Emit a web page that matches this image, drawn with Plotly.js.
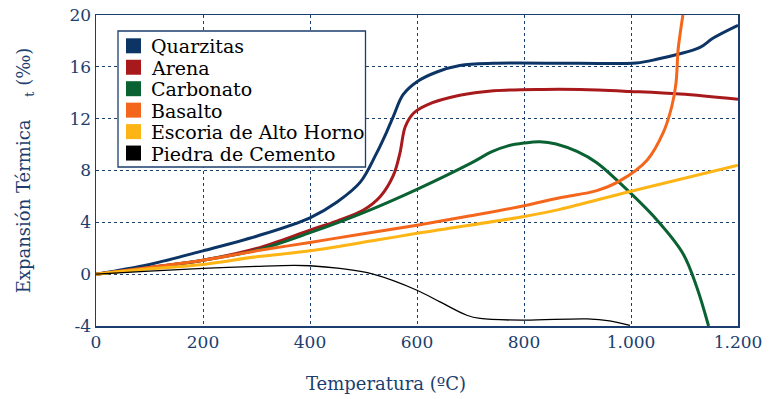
<!DOCTYPE html>
<html><head><meta charset="utf-8">
<script src="https://cdn.plot.ly/plotly-3.0.1.min.js"></script>
<style>html,body{margin:0;padding:0;background:#fff}</style>
</head><body><div id="chart" style="width:769px;height:399px"></div>
<script>
var names = ['Quarzitas','Arena','Carbonato','Basalto','Escoria de Alto Horno','Piedra de Cemento'];
var colors = ['#0c3566','#a8191c','#0a6233','#f4661c','#fdb515','#000000'];
var xTitle = 'Temperatura (ºC)';
var yTitle = 'Expansión Térmica \u00a0\u00a0\u00a0<sub>t</sub> (‰)';

var quarzX = [0,100,200,300,400,450,494,524,543,556,574,600,637,680,743,900,1010,1050,1086,1129,1153,1200];
var quarzY = [0,0.75,1.8,2.93,4.35,5.55,7.1,9.3,10.95,12.2,13.85,14.85,15.6,16.1,16.27,16.27,16.3,16.6,16.95,17.5,18.2,19.2];

var arenaX = [0,100,200,300,400,450,500,531,556,568,578,593,618,680,743,837,905,998,1092,1200];
var arenaY = [0,0.52,1.08,1.98,3.4,4.1,4.95,5.97,7.64,9.32,11.37,12.4,13.05,13.8,14.15,14.26,14.25,14.1,13.9,13.5];

var carbX = [0,100,200,300,400,500,600,700,740,770,800,830,860,900,936,980,1048,1097,1123,1145];
var carbY = [0,0.5,1.08,1.85,3.2,4.75,6.55,8.55,9.45,9.9,10.12,10.22,10.05,9.45,8.6,7.0,4.2,1.6,-1.0,-4.0];

var basX = [0,100,200,300,400,500,600,700,800,867,936,979,1030,1060,1076,1084,1088,1092,1097];
var basY = [0,0.52,1.08,1.8,2.45,3.12,3.78,4.5,5.28,5.9,6.45,7.2,8.8,10.9,12.9,14.7,17.3,18.6,20.0];

var escX = [0,100,200,300,400,525,600,800,867,1000,1200];
var escY = [0,0.41,0.75,1.34,1.8,2.63,3.15,4.45,5.0,6.4,8.4];

var piedX = [0,100,200,300,370,400,456,518,600,643,693,718,798,918,960,998];
var piedY = [0,0.23,0.44,0.6,0.68,0.65,0.44,0,-1.24,-2.14,-3.17,-3.42,-3.55,-3.45,-3.6,-3.95];

var xTickVals = [0,200,400,600,800,1000,1200];
var xTickText = ['0','200','400','600','800','1.000','1.200'];
var yTickVals = [-4,0,4,8,12,16,20];
var yTickText = ['-4','0','4','8','12','16','20'];

var xs = [quarzX, arenaX, carbX, basX, escX, piedX];
var ys = [quarzY, arenaY, carbY, basY, escY, piedY];
var widths = [3, 3, 3, 3, 3, 1.3];

var traces = [];
for (var i = 0; i < names.length; i++) {
  traces.push({x: xs[i], y: ys[i], name: names[i], mode: 'lines',
    line: {color: colors[i], width: widths[i], shape: 'spline', smoothing: 1},
    showlegend: false, hoverinfo: 'skip'});
}

var axisCol = '#1a3e6e';
var fontFam = '"DejaVu Serif", "Liberation Serif", serif';

// plot area 96..738 x 15..326 (pixels) -> paper coordinates
var L = 96, R = 738, T = 15, B = 326;
function px(x) { return (x - L) / (R - L); }
function py(y) { return (B - y) / (B - T); }
var shapes = [{type: 'rect', xref: 'paper', yref: 'paper', x0: px(118), x1: px(365.5), y0: py(167), y1: py(31),
  line: {color: axisCol, width: 1.3}, fillcolor: '#fff', layer: 'above'}];
var annotations = [];
for (var i = 0; i < names.length; i++) {
  var cy = 45.8 + i * 21.45;
  shapes.push({type: 'rect', xref: 'paper', yref: 'paper', x0: px(126), x1: px(141), y0: py(cy + 7.5), y1: py(cy - 7.5),
    line: {width: 0}, fillcolor: colors[i], layer: 'above'});
  annotations.push({xref: 'paper', yref: 'paper', x: px(149), y: py(cy + 0.5), xanchor: 'left', yanchor: 'middle',
    text: names[i], showarrow: false, font: {family: fontFam, size: 19, color: '#000'}});
}
annotations.push({xref: 'paper', yref: 'paper', x: px(386), y: py(383), xanchor: 'center', yanchor: 'middle',
  text: xTitle, showarrow: false, font: {family: fontFam, size: 18, color: axisCol}});

var layout = {
  width: 769, height: 399,
  margin: {l: 96, r: 31, t: 15, b: 73},
  paper_bgcolor: '#fff', plot_bgcolor: '#fff',
  font: {family: fontFam, color: axisCol, size: 16},
  showlegend: false,
  shapes: shapes,
  annotations: annotations,
  xaxis: {range: [0, 1200], tickvals: xTickVals, ticktext: xTickText, showgrid: true, gridcolor: axisCol, griddash: 'dot', gridwidth: 1,
    showline: true, linecolor: axisCol, linewidth: 1.5, mirror: true, zeroline: false, ticks: '',
    tickfont: {family: fontFam, size: 17, color: axisCol}},
  yaxis: {range: [-4, 20], tickvals: yTickVals, ticktext: yTickText, showgrid: true, gridcolor: axisCol, griddash: 'dot', gridwidth: 1,
    showline: true, linecolor: axisCol, linewidth: 1.5, mirror: true, zeroline: false, ticks: '',
    tickfont: {family: fontFam, size: 17, color: axisCol},
    title: {text: yTitle, font: {family: fontFam, size: 18, color: axisCol}, standoff: 34}}
};
Plotly.newPlot('chart', traces, layout, {displayModeBar: false, staticPlot: true});
</script></body></html>
